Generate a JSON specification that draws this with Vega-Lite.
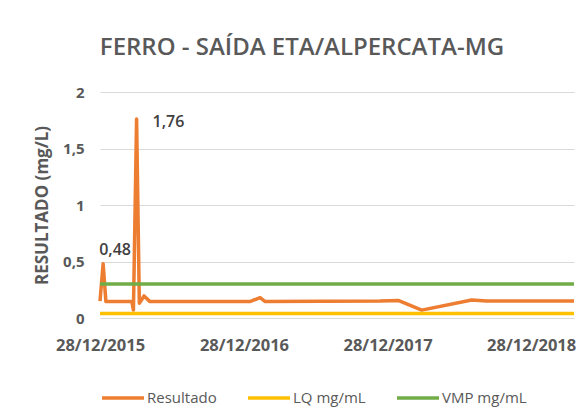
{
  "$schema": "https://vega.github.io/schema/vega-lite/v6.json",
  "autosize": "none",
  "width": 474,
  "height": 226,
  "padding": {"left": 100, "top": 92, "right": 14, "bottom": 96},
  "background": "white",
  "config": {
    "font": "Open Sans",
    "view": {"stroke": null}
  },
  "title": {
    "text": "FERRO - SAÍDA ETA/ALPERCATA-MG",
    "font": "Open Sans",
    "fontSize": 24,
    "fontWeight": 600,
    "color": "#595959",
    "anchor": "middle",
    "dx": -35,
    "offset": 25
  },
  "data": {
    "values": [
      {"date": "2015-12-28T00:00:00", "serie": "Resultado", "valor": 0.15},
      {"date": "2016-01-05T00:00:00", "serie": "Resultado", "valor": 0.48, "rotulo": "0,48"},
      {"date": "2016-01-12T00:00:00", "serie": "Resultado", "valor": 0.145},
      {"date": "2016-03-18T00:00:00", "serie": "Resultado", "valor": 0.145},
      {"date": "2016-03-22T00:00:00", "serie": "Resultado", "valor": 0.07},
      {"date": "2016-03-30T00:00:00", "serie": "Resultado", "valor": 1.76, "rotulo": "1,76"},
      {"date": "2016-04-06T00:00:00", "serie": "Resultado", "valor": 0.13},
      {"date": "2016-04-18T00:00:00", "serie": "Resultado", "valor": 0.195},
      {"date": "2016-05-03T00:00:00", "serie": "Resultado", "valor": 0.145},
      {"date": "2017-01-12T00:00:00", "serie": "Resultado", "valor": 0.145},
      {"date": "2017-02-07T00:00:00", "serie": "Resultado", "valor": 0.18},
      {"date": "2017-02-20T00:00:00", "serie": "Resultado", "valor": 0.145},
      {"date": "2017-12-09T00:00:00", "serie": "Resultado", "valor": 0.15},
      {"date": "2018-01-24T00:00:00", "serie": "Resultado", "valor": 0.155},
      {"date": "2018-03-25T00:00:00", "serie": "Resultado", "valor": 0.07},
      {"date": "2018-07-30T00:00:00", "serie": "Resultado", "valor": 0.16},
      {"date": "2018-09-06T00:00:00", "serie": "Resultado", "valor": 0.15},
      {"date": "2019-04-16T00:00:00", "serie": "Resultado", "valor": 0.15},
      {"date": "2015-12-28T00:00:00", "serie": "LQ mg/mL", "valor": 0.04},
      {"date": "2019-04-16T00:00:00", "serie": "LQ mg/mL", "valor": 0.04},
      {"date": "2015-12-28T00:00:00", "serie": "VMP mg/mL", "valor": 0.3},
      {"date": "2019-04-16T00:00:00", "serie": "VMP mg/mL", "valor": 0.3}
    ]
  },
  "encoding": {
    "x": {
      "field": "date",
      "type": "temporal",
      "scale": {"domain": [{"year": 2015, "month": 12, "date": 28}, {"year": 2019, "month": 4, "date": 16}]},
      "axis": {
        "title": null,
        "values": [
          {"year": 2015, "month": 12, "date": 28},
          {"year": 2016, "month": 12, "date": 28},
          {"year": 2017, "month": 12, "date": 28},
          {"year": 2018, "month": 12, "date": 28}
        ],
        "format": "%d/%m/%Y",
        "grid": false,
        "domain": false,
        "ticks": false,
        "labelFont": "Open Sans",
        "labelFontSize": 16.5,
        "labelFontWeight": "bold",
        "labelColor": "#595959",
        "labelPadding": 19,
        "labelFlush": false,
        "labelOverlap": false
      }
    },
    "y": {
      "field": "valor",
      "type": "quantitative",
      "scale": {"domain": [0, 2], "nice": false},
      "axis": {
        "title": "RESULTADO (mg/L)",
        "titleFont": "Open Sans",
        "titleFontSize": 17,
        "titleFontWeight": "bold",
        "titleColor": "#595959",
        "titlePadding": 11,
        "values": [0, 0.5, 1, 1.5, 2],
        "labelExpr": "replace(format(datum.value, ''), '.', ',')",
        "grid": true,
        "gridColor": "#D9D9D9",
        "gridWidth": 1,
        "domain": false,
        "ticks": false,
        "labelFont": "Open Sans",
        "labelFontSize": 15,
        "labelFontWeight": "bold",
        "labelColor": "#595959",
        "labelPadding": 16
      }
    }
  },
  "layer": [
    {
      "mark": {"type": "line", "strokeWidth": 3.5, "strokeJoin": "round"},
      "encoding": {
        "color": {
          "field": "serie",
          "type": "nominal",
          "scale": {
            "domain": ["Resultado", "LQ mg/mL", "VMP mg/mL"],
            "range": ["#ED7D31", "#FFC000", "#70AD47"]
          },
          "legend": {
            "title": null,
            "orient": "bottom",
            "direction": "horizontal",
            "symbolType": "stroke",
            "symbolSize": 1764,
            "symbolStrokeWidth": 3.5,
            "labelFont": "Open Sans",
            "labelFontSize": 15,
            "labelColor": "#595959",
            "columnPadding": 24,
            "symbolOffset": 0,
            "labelOffset": 1,
            "offset": 21
          }
        },
        "order": {"field": "date", "type": "temporal"}
      }
    },
    {
      "transform": [{"filter": "datum.rotulo == '0,48'"}],
      "mark": {"type": "text", "align": "left", "baseline": "bottom", "dx": -4, "dy": -6, "fontSize": 16, "fontWeight": 600, "color": "#404040", "font": "Open Sans"},
      "encoding": {"text": {"field": "rotulo"}}
    },
    {
      "transform": [{"filter": "datum.rotulo == '1,76'"}],
      "mark": {"type": "text", "align": "left", "baseline": "middle", "dx": 16, "dy": 3, "fontSize": 16, "fontWeight": 600, "color": "#404040", "font": "Open Sans"},
      "encoding": {"text": {"field": "rotulo"}}
    }
  ]
}
